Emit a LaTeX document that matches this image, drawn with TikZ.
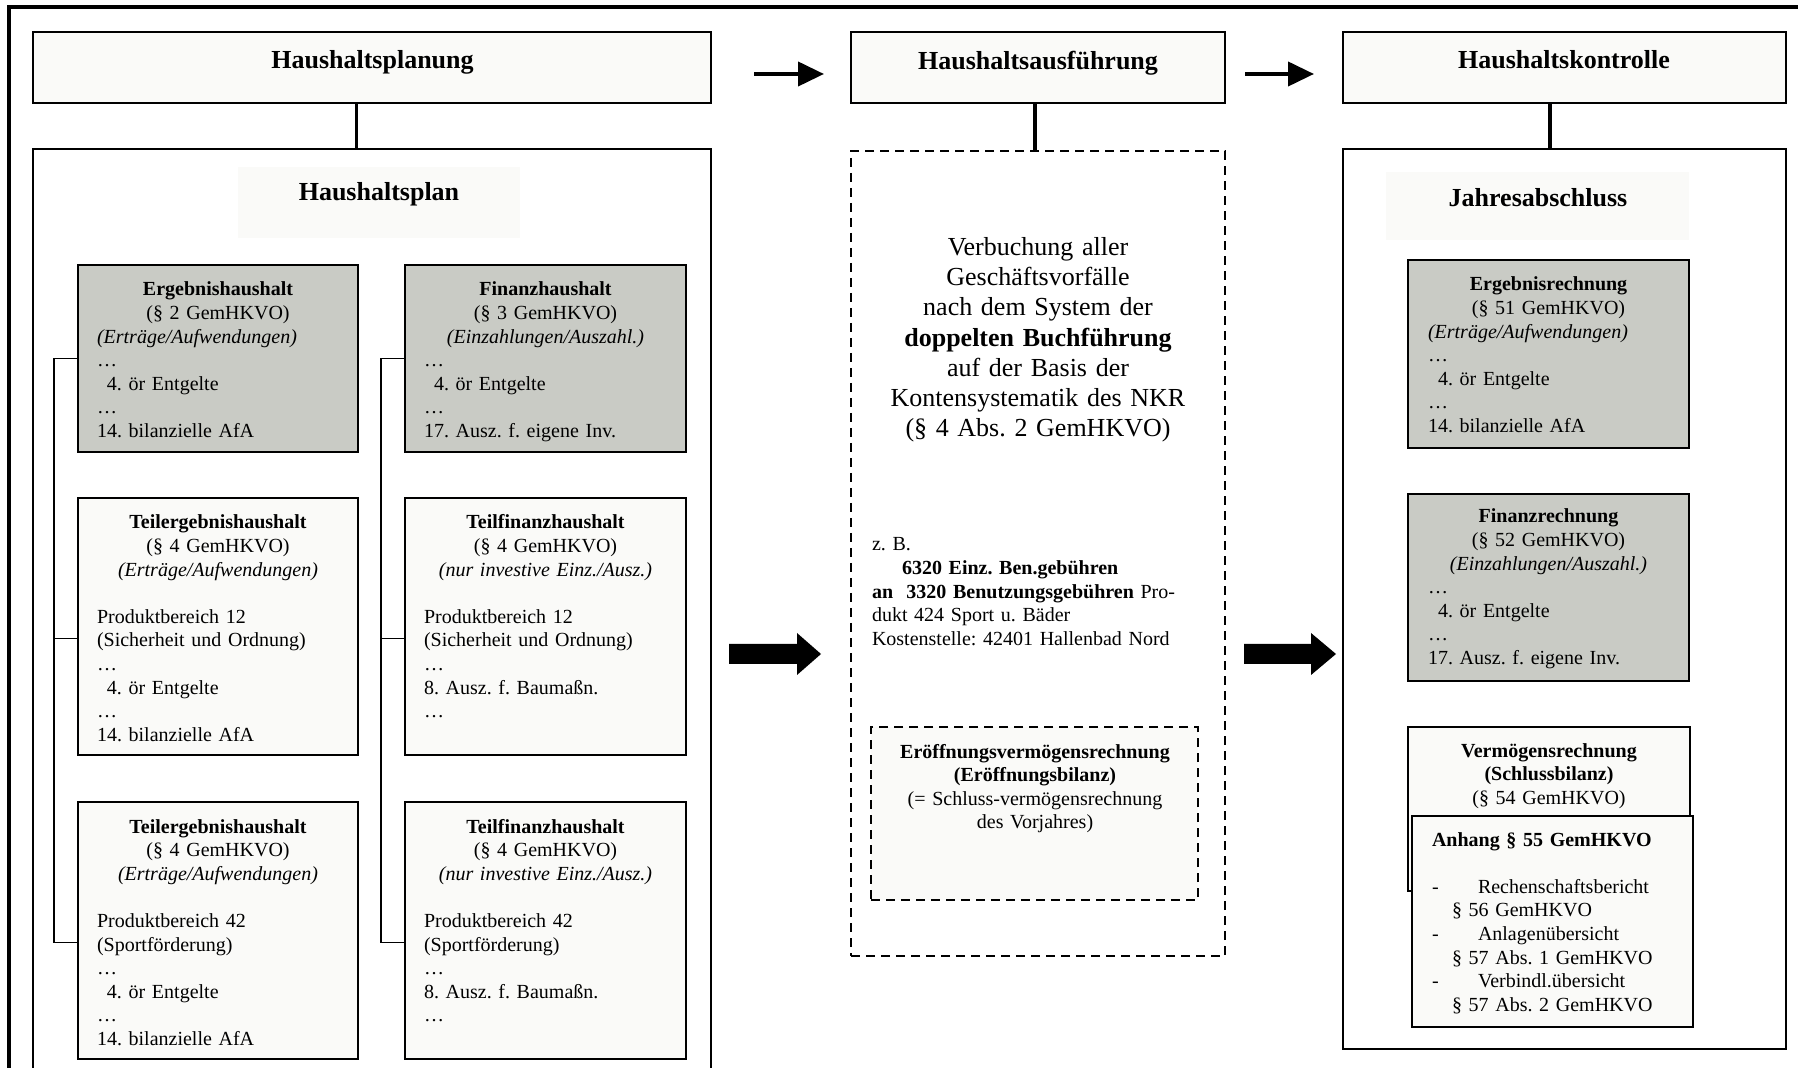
\documentclass[tikz,border=0pt]{standalone}
\usepackage{fontspec}
\setmainfont{Liberation Serif}
\usetikzlibrary{calc,arrows.meta}
\definecolor{boxgray}{RGB}{201,203,197}
\definecolor{boxlight}{RGB}{250,250,248}
\tikzset{
 every node/.style={inner sep=0pt, outer sep=0pt},
 frameline/.style={line width=2pt},
 topbox/.style={draw, line width=1pt, fill=boxlight},
 bigbox/.style={draw, line width=1.2pt, fill=white},
 graybox/.style={draw, line width=1pt, fill=boxgray},
 lightbox/.style={draw, line width=1pt, fill=boxlight},
 dashbox/.style={draw, line width=1.2pt, dash pattern=on 4.5pt off 3pt},
 titlebg/.style={fill=boxlight},
 conn/.style={line width=1.6pt},
 brkt/.style={line width=0.8pt},
 smallarrow/.style={line width=2pt, -{Triangle[length=13pt,width=12pt]}},
 ttl/.style={font=\bfseries\fontsize{13}{15}\selectfont, anchor=base},
 body/.style={font=\frenchspacing\fontsize{10}{11.8}\selectfont, align=left, anchor=base west},
 midtxt/.style={font=\frenchspacing\fontsize{13}{15.1}\selectfont, align=center, anchor=base},
}
\newcommand{\bx}[6]{\node[#6, anchor=north west, minimum width={(#4-#2)*0.5pt}, minimum height={(#5-#3)*0.5pt}] (#1) at (#2,#3) {};}
\newcommand{\ctr}[1]{\makebox[\linewidth]{#1}}
\begin{document}
\frenchspacing
\begin{tikzpicture}[x=0.5pt,y=-0.5pt]
\useasboundingbox (0,0) rectangle (1798,1068);
\clip (0,0) rectangle (1798,1068);
\fill[white] (0,0) rectangle (1798,1068);
% outer frame
\draw[frameline] (9,1100) -- (9,7.5) -- (1850,7.5);
% top boxes
\bx{plan}{33}{32}{711}{103}{topbox}
\bx{ausf}{851}{32}{1225}{103}{topbox}
\bx{kontr}{1343}{32}{1786}{103}{topbox}
% big boxes
\bx{hplan}{33}{149}{711}{1100}{bigbox}
\bx{ex}{851}{151}{1225}{956}{dashbox}
\bx{kbox}{1343}{149}{1786}{1049}{bigbox}
% title backgrounds
\bx{hpbg}{238}{167}{520}{238}{titlebg}
\bx{jabg}{1386}{172}{1689}{240}{titlebg}
% left column boxes
\bx{eh}{78}{265}{358}{452}{graybox}
\bx{fh}{405}{265}{686}{452}{graybox}
\bx{teh1}{78}{498}{358}{755}{lightbox}
\bx{tfh1}{405}{498}{686}{755}{lightbox}
\bx{teh2}{78}{802}{358}{1059}{lightbox}
\bx{tfh2}{405}{802}{686}{1059}{lightbox}
% middle inner box
\bx{eb}{871}{727}{1198}{900}{dashbox,fill=boxlight}
% right column boxes
\bx{er}{1408}{260}{1689}{448}{graybox}
\bx{fr}{1408}{494}{1689}{681}{graybox}
\bx{vr}{1408}{727}{1690}{891}{lightbox}
\bx{an}{1412}{816}{1693}{1027}{lightbox}
% connectors
\coordinate (cx1) at (356.5,0);
\coordinate (cx2) at (1035,0);
\coordinate (cx3) at (1550,0);
\draw[conn] (plan.south -| cx1) -- (hplan.north -| cx1);
\draw[conn] (ausf.south -| cx2) -- (ex.north -| cx2);
\draw[conn] (kontr.south -| cx3) -- (kbox.north -| cx3);
% brackets
\draw[brkt] (eh.west) -- ++(-24,0) |- ($(teh2.west)+(0,12)$);
\draw[brkt] ($(teh1.west)+(0,12)$) -- ++(-24,0);
\draw[brkt] (fh.west) -- ++(-24,0) |- ($(tfh2.west)+(0,12)$);
\draw[brkt] ($(tfh1.west)+(0,12)$) -- ++(-24,0);
% small arrows
\draw[smallarrow] ($(plan.east)+(43,6.5)$) -- ($(ausf.west)+(-27,6.5)$);
\draw[smallarrow] ($(ausf.east)+(20,6.5)$) -- ($(kontr.west)+(-29,6.5)$);
% big arrows
\coordinate (ba1) at (729,654);
\coordinate (ba2) at (1244,654);
\fill (ba1) ++(0,-10) -- ++(68,0) -- ++(0,-11) -- ++(24,21) -- ++(-24,21) -- ++(0,-11) -- ++(-68,0) -- cycle;
\fill (ba2) ++(0,-10) -- ++(67,0) -- ++(0,-11) -- ++(25,21) -- ++(-25,21) -- ++(0,-11) -- ++(-67,0) -- cycle;
% titles
\node[ttl] (t1) at (372.5,69) {Haushaltsplanung};
\node[ttl] (t2) at (1038,70) {Haushaltsausführung};
\node[ttl] (t3) at (1564,69) {Haushaltskontrolle};
\node[ttl] (t4) at (379,201) {Haushaltsplan};
\node[ttl] (t5) at (1538,207) {Jahresabschluss};
% left column texts
\node[body, text width=121pt] (eht) at (97,296) {\ctr{\textbf{Ergebnishaushalt}}\\\ctr{(§ 2 GemHKVO)}\\\textit{(Erträge/Aufwendungen)}\\…\\\phantom{1}4. ör Entgelte\\…\\14. bilanzielle AfA};
\node[body, text width=121.5pt] (fht) at (424,296) {\ctr{\textbf{Finanzhaushalt}}\\\ctr{(§ 3 GemHKVO)}\\\ctr{\textit{(Einzahlungen/Auszahl.)}}\\…\\\phantom{1}4. ör Entgelte\\…\\17. Ausz. f. eigene Inv.};
\node[body, text width=121pt] (teh1t) at (97,529) {\ctr{\textbf{Teilergebnishaushalt}}\\\ctr{(§ 4 GemHKVO)}\\\ctr{\textit{(Erträge/Aufwendungen)}}\\[11.8pt]Produktbereich 12\\(Sicherheit und Ordnung)\\…\\\phantom{1}4. ör Entgelte\\…\\14. bilanzielle AfA};
\node[body, text width=121.5pt] (tfh1t) at (424,529) {\ctr{\textbf{Teilfinanzhaushalt}}\\\ctr{(§ 4 GemHKVO)}\\\ctr{\textit{(nur investive Einz./Ausz.)}}\\[11.8pt]Produktbereich 12\\(Sicherheit und Ordnung)\\…\\8. Ausz. f. Baumaßn.\\…};
\node[body, text width=121pt] (teh2t) at (97,833) {\ctr{\textbf{Teilergebnishaushalt}}\\\ctr{(§ 4 GemHKVO)}\\\ctr{\textit{(Erträge/Aufwendungen)}}\\[11.8pt]Produktbereich 42\\(Sportförderung)\\…\\\phantom{1}4. ör Entgelte\\…\\14. bilanzielle AfA};
\node[body, text width=121.5pt] (tfh2t) at (424,833) {\ctr{\textbf{Teilfinanzhaushalt}}\\\ctr{(§ 4 GemHKVO)}\\\ctr{\textit{(nur investive Einz./Ausz.)}}\\[11.8pt]Produktbereich 42\\(Sportförderung)\\…\\8. Ausz. f. Baumaßn.\\…};
% middle texts
\node[midtxt, text width=180pt] (mtxt) at (1038,255.5) {Verbuchung aller\\Geschäftsvorfälle\\nach dem System der\\\textbf{doppelten Buchführung}\\auf der Basis der\\Kontensystematik des NKR\\(§ 4 Abs. 2 GemHKVO)};
\node[body, text width=172pt] (zbt) at (872,551) {z. B.\\\hspace*{15pt}\textbf{6320 Einz. Ben.gebühren}\\\textbf{an\ \ 3320 Benutzungsgebühren} Pro-\\dukt 424 Sport u. Bäder\\Kostenstelle: 42401 Hallenbad Nord};
\node[body, align=center, anchor=base, text width=150pt] (ebt) at (1035,758) {\textbf{Eröffnungsvermögensrechnung}\\\textbf{(Eröffnungsbilanz)}\\(= Schluss-vermögensrechnung\\des Vorjahres)};
% right column texts
\node[body, text width=120.5pt] (ert) at (1428,291) {\ctr{\textbf{Ergebnisrechnung}}\\\ctr{(§ 51 GemHKVO)}\\\textit{(Erträge/Aufwendungen)}\\…\\\phantom{1}4. ör Entgelte\\…\\14. bilanzielle AfA};
\node[body, text width=120.5pt] (frt) at (1428,523) {\ctr{\textbf{Finanzrechnung}}\\\ctr{(§ 52 GemHKVO)}\\\ctr{\textit{(Einzahlungen/Auszahl.)}}\\…\\\phantom{1}4. ör Entgelte\\…\\17. Ausz. f. eigene Inv.};
\node[body, align=center, anchor=base, text width=130pt] (vrt) at (1549,757) {\textbf{Vermögensrechnung}\\\textbf{(Schlussbilanz)}\\(§ 54 GemHKVO)};
\node[body, text width=125pt] (ant) at (1432,846) {\textbf{Anhang § 55 GemHKVO}\\[11.8pt]\makebox[23pt][l]{-}Rechenschaftsbericht\\\hspace*{10pt}§ 56 GemHKVO\\\makebox[23pt][l]{-}Anlagenübersicht\\\hspace*{10pt}§ 57 Abs. 1 GemHKVO\\\makebox[23pt][l]{-}Verbindl.übersicht\\\hspace*{10pt}§ 57 Abs. 2 GemHKVO};
\end{tikzpicture}
\end{document}
